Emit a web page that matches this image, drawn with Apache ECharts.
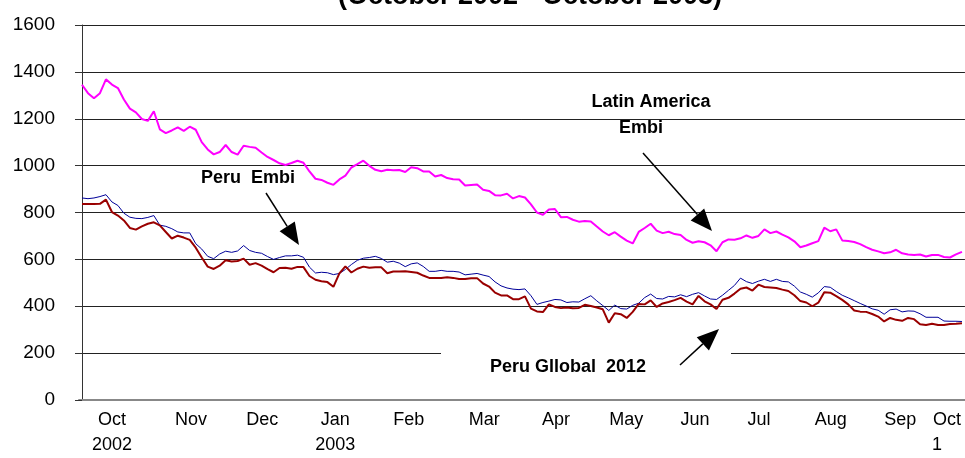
<!DOCTYPE html>
<html><head><meta charset="utf-8">
<script src="https://cdn.jsdelivr.net/npm/echarts@6/dist/echarts.min.js"></script>
<style>html,body{margin:0;padding:0;background:#fff}#c{width:965px;height:458px}</style>
</head><body><div id="c"></div>
<script>
// Latin America EMBI spread (magenta)
const latamEmbi = [
1345,1309,1287,1309,1368,1346,1331,1282,1243,1227,
1199,1191,1232,1155,1139,1150,1163,1148,1166,1153,
1100,1069,1048,1058,1088,1058,1047,1085,1080,1076,
1056,1037,1024,1010,1003,1011,1021,1012,975,944,
939,927,918,941,957,992,1006,1021,999,982,
976,982,980,981,973,993,989,975,975,954,
960,947,942,941,915,917,919,897,892,874,
873,880,860,870,864,835,800,790,813,815,
780,781,769,761,764,762,740,719,703,716,
697,680,668,717,734,752,723,712,718,708,
704,683,671,677,673,660,635,673,685,684,
690,702,692,700,728,712,719,706,694,677,
652,659,669,678,735,720,728,681,678,674,
665,652,641,634,626,630,641,626,621,619,
621,612,619,619,610,608,621,632
];
// Peru EMBI spread (blue)
const peruEmbi = [
862,859,862,868,876,845,830,797,780,775,
774,779,787,746,741,731,717,713,713,667,
644,613,603,623,635,630,636,659,638,630,
626,612,600,608,615,615,618,609,567,542,
545,543,535,540,557,578,596,605,608,613,
604,588,592,584,569,581,585,570,549,549,
553,549,549,546,534,537,540,533,527,504,
487,478,473,471,474,445,408,416,422,429,
427,416,419,418,432,445,423,403,382,405,
390,388,404,413,437,452,433,431,442,440,
449,441,451,458,444,431,429,447,468,489,
520,505,497,507,515,506,515,506,504,486,
461,451,439,457,484,481,463,447,436,424,
412,401,389,383,366,385,388,376,380,379,
368,353,353,353,337,336,336,335
];
// Peru Global 2012 spread (dark red)
const peruGlobal2012 = [
836,836,836,837,855,802,787,766,734,727,
741,752,758,745,717,689,701,693,683,650,
608,569,559,573,596,591,593,603,577,584,
573,558,545,563,564,560,568,567,529,513,
507,503,483,540,570,544,560,569,564,566,
566,541,548,548,549,546,543,531,521,521,
521,524,521,516,516,519,520,497,484,458,
446,446,430,430,442,390,378,375,408,397,
392,395,391,393,406,401,395,387,330,370,
366,350,376,410,408,425,397,412,418,426,
436,420,408,444,421,408,388,428,436,454,
475,480,467,492,482,480,478,471,465,447,
422,416,400,415,460,458,443,427,408,382,
377,376,367,356,335,350,342,338,350,345,
323,320,325,320,320,324,325,327
];
// Month labels and the observation index at which each is centred
const monthLabels = ['Oct\n2002','Nov','Dec','Jan\n2003','Feb','Mar','Apr','May','Jun','Jul','Aug','Sep','Oct\n1    '];
const monthIdx = [5.0,18.2,30.1,42.3,54.6,67.2,79.2,90.9,102.4,113.1,125.1,136.7,144.5];

const FONT = '"Liberation Sans", Arial, sans-serif';
const toPairs = arr => arr.map((v, i) => [i, v]);

function arrow(x1, y1, x2, y2) {
  const dx = x2 - x1, dy = y2 - y1, L = Math.hypot(dx, dy);
  const ux = dx / L, uy = dy / L, hl = 22, hw = 9;
  const bx = x2 - ux * hl, by = y2 - uy * hl;
  return [
    {type: 'line', z: 10, shape: {x1: x1, y1: y1, x2: bx, y2: by}, style: {stroke: '#000', lineWidth: 1.5}},
    {type: 'polygon', z: 10, shape: {points: [[x2, y2], [bx - uy * hw, by + ux * hw], [bx + uy * hw, by - ux * hw]]}, style: {fill: '#000'}}
  ];
}

const chart = echarts.init(document.getElementById('c'), null, {renderer: 'canvas'});
chart.setOption({
  animation: false,
  backgroundColor: '#fff',
  grid: {left: 79, right: 0, top: 25, bottom: 51},
  xAxis: {
    type: 'value', min: -0.5, max: latamEmbi.length - 0.5,
    splitLine: {show: false},
    axisTick: {show: false},
    axisLine: {show: true, lineStyle: {color: '#888', width: 2}},
    axisLabel: {
      customValues: monthIdx,
      margin: 8, fontSize: 18, lineHeight: 25, color: '#000', fontFamily: FONT,
      formatter: function (v) {
        const k = monthIdx.findIndex(p => Math.abs(p - v) < 1e-6);
        return k >= 0 ? monthLabels[k] : '';
      }
    }
  },
  yAxis: {
    type: 'value', min: 0, max: 1600, interval: 200,
    axisLine: {show: true, lineStyle: {color: '#333', width: 1}},
    axisTick: {show: true, length: 7, lineStyle: {color: '#333'}},
    splitLine: {show: true, lineStyle: {color: '#222', width: 1}},
    axisLabel: {margin: 24, fontSize: 19, color: '#000', fontFamily: FONT,
      formatter: function (v) { return String(v); }}
  },
  series: [
    {name: 'Latin America Embi', type: 'line', data: toPairs(latamEmbi), showSymbol: false,
     lineStyle: {color: '#ff00ff', width: 2}, z: 3},
    {name: 'Peru Embi', type: 'line', data: toPairs(peruEmbi), showSymbol: false,
     lineStyle: {color: '#000099', width: 1}, z: 3},
    {name: 'Peru Global 2012', type: 'line', data: toPairs(peruGlobal2012), showSymbol: false,
     lineStyle: {color: '#990000', width: 2}, z: 4}
  ],
  graphic: [
    {type: 'rect', z: 1, shape: {x: 441, y: 348, width: 290, height: 38}, style: {fill: '#fff'}},
    {type: 'text', z: 10, style: {x: 530, y: -3, text: '(October 2002 - October 2003)', textAlign: 'center', textVerticalAlign: 'middle', font: 'bold 27px ' + FONT, fill: '#000'}},
    {type: 'text', z: 10, style: {x: 651, y: 102, text: 'Latin America', textAlign: 'center', textVerticalAlign: 'middle', font: 'bold 18px ' + FONT, fill: '#000'}},
    {type: 'text', z: 10, style: {x: 641, y: 128, text: 'Embi', textAlign: 'center', textVerticalAlign: 'middle', font: 'bold 18px ' + FONT, fill: '#000'}},
    {type: 'text', z: 10, style: {x: 248, y: 178, text: 'Peru  Embi', textAlign: 'center', textVerticalAlign: 'middle', font: 'bold 18px ' + FONT, fill: '#000'}},
    {type: 'text', z: 10, style: {x: 568, y: 367, text: 'Peru Gllobal  2012', textAlign: 'center', textVerticalAlign: 'middle', font: 'bold 18px ' + FONT, fill: '#000'}}
  ].concat(arrow(643, 153, 712, 231), arrow(266, 193, 299, 245), arrow(680, 365, 719, 329))
});
</script></body></html>
